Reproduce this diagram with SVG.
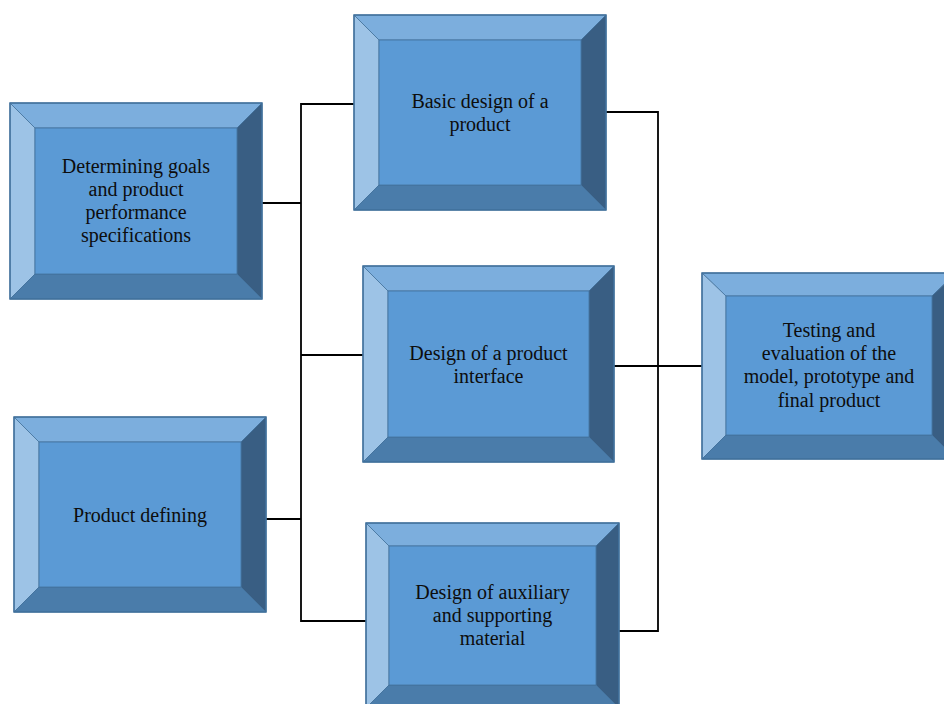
<svg xmlns="http://www.w3.org/2000/svg" width="944" height="704" viewBox="0 0 944 704">
<style>
.t{fill:#7CAEDD}.l{fill:#9DC3E6}.r{fill:#395E83}.b{fill:#4A7CAA}.c{fill:#5B9AD5}
.t,.l,.r,.b,.c{stroke:#41719C;stroke-width:0.8;stroke-linejoin:round}
.o{fill:none;stroke:#41719C;stroke-width:1.5}
text{font-family:"Liberation Serif","Times New Roman",serif;font-size:20px;fill:#0d0d0d;text-anchor:middle}
.conn path{fill:none;stroke:#000;stroke-width:1.8}
</style>
<rect width="944" height="704" fill="#fff"/>
<g class="conn">
<path d="M262,203 H301"/>
<path d="M266,519 H301"/>
<path d="M354,104 H301 V621 H368"/>
<path d="M301,355 H367"/>
<path d="M606,112 H658 V631 H619"/>
<path d="M614,366 H702"/>
</g>
<g id="n1">
<polygon class="t" points="10,103 262,103 237,128 35,128"/>
<polygon class="l" points="10,103 35,128 35,274 10,299"/>
<polygon class="r" points="262,103 262,299 237,274 237,128"/>
<polygon class="b" points="35,274 237,274 262,299 10,299"/>
<rect class="c" x="35" y="128" width="202" height="146"/>
<rect class="o" x="10" y="103" width="252" height="196"/>
<text x="136" y="173">Determining goals</text>
<text x="136" y="196">and product</text>
<text x="136" y="219">performance</text>
<text x="136" y="242">specifications</text>
</g>
<g id="n2">
<polygon class="t" points="354,15 606,15 581,40 379,40"/>
<polygon class="l" points="354,15 379,40 379,185 354,210"/>
<polygon class="r" points="606,15 606,210 581,185 581,40"/>
<polygon class="b" points="379,185 581,185 606,210 354,210"/>
<rect class="c" x="379" y="40" width="202" height="145"/>
<rect class="o" x="354" y="15" width="252" height="195"/>
<text x="480" y="108">Basic design of a</text>
<text x="480" y="131">product</text>
</g>
<g id="n3">
<polygon class="t" points="363,266 614,266 589,291 388,291"/>
<polygon class="l" points="363,266 388,291 388,437 363,462"/>
<polygon class="r" points="614,266 614,462 589,437 589,291"/>
<polygon class="b" points="388,437 589,437 614,462 363,462"/>
<rect class="c" x="388" y="291" width="201" height="146"/>
<rect class="o" x="363" y="266" width="251" height="196"/>
<text x="488.5" y="360">Design of a product</text>
<text x="488.5" y="383">interface</text>
</g>
<g id="n4">
<polygon class="t" points="14,417 266,417 241,442 39,442"/>
<polygon class="l" points="14,417 39,442 39,587 14,612"/>
<polygon class="r" points="266,417 266,612 241,587 241,442"/>
<polygon class="b" points="39,587 241,587 266,612 14,612"/>
<rect class="c" x="39" y="442" width="202" height="145"/>
<rect class="o" x="14" y="417" width="252" height="195"/>
<text x="140" y="522">Product defining</text>
</g>
<g id="n5">
<polygon class="t" points="366,523 619,523 596,546 389,546"/>
<polygon class="l" points="366,523 389,546 389,685 366,708"/>
<polygon class="r" points="619,523 619,708 596,685 596,546"/>
<polygon class="b" points="389,685 596,685 619,708 366,708"/>
<rect class="c" x="389" y="546" width="207" height="139"/>
<rect class="o" x="366" y="523" width="253" height="185"/>
<text x="492.5" y="599">Design of auxiliary</text>
<text x="492.5" y="622">and supporting</text>
<text x="492.5" y="645">material</text>
</g>
<g id="n6">
<polygon class="t" points="702,273 956,273 932,296 726,296"/>
<polygon class="l" points="702,273 726,296 726,435 702,459"/>
<polygon class="r" points="956,273 956,459 932,435 932,296"/>
<polygon class="b" points="726,435 932,435 956,459 702,459"/>
<rect class="c" x="726" y="296" width="206" height="139"/>
<rect class="o" x="702" y="273" width="254" height="186"/>
<text x="829" y="337">Testing and</text>
<text x="829" y="360">evaluation of the</text>
<text x="829" y="383">model, prototype and</text>
<text x="829" y="407">final product</text>
</g>
</svg>
